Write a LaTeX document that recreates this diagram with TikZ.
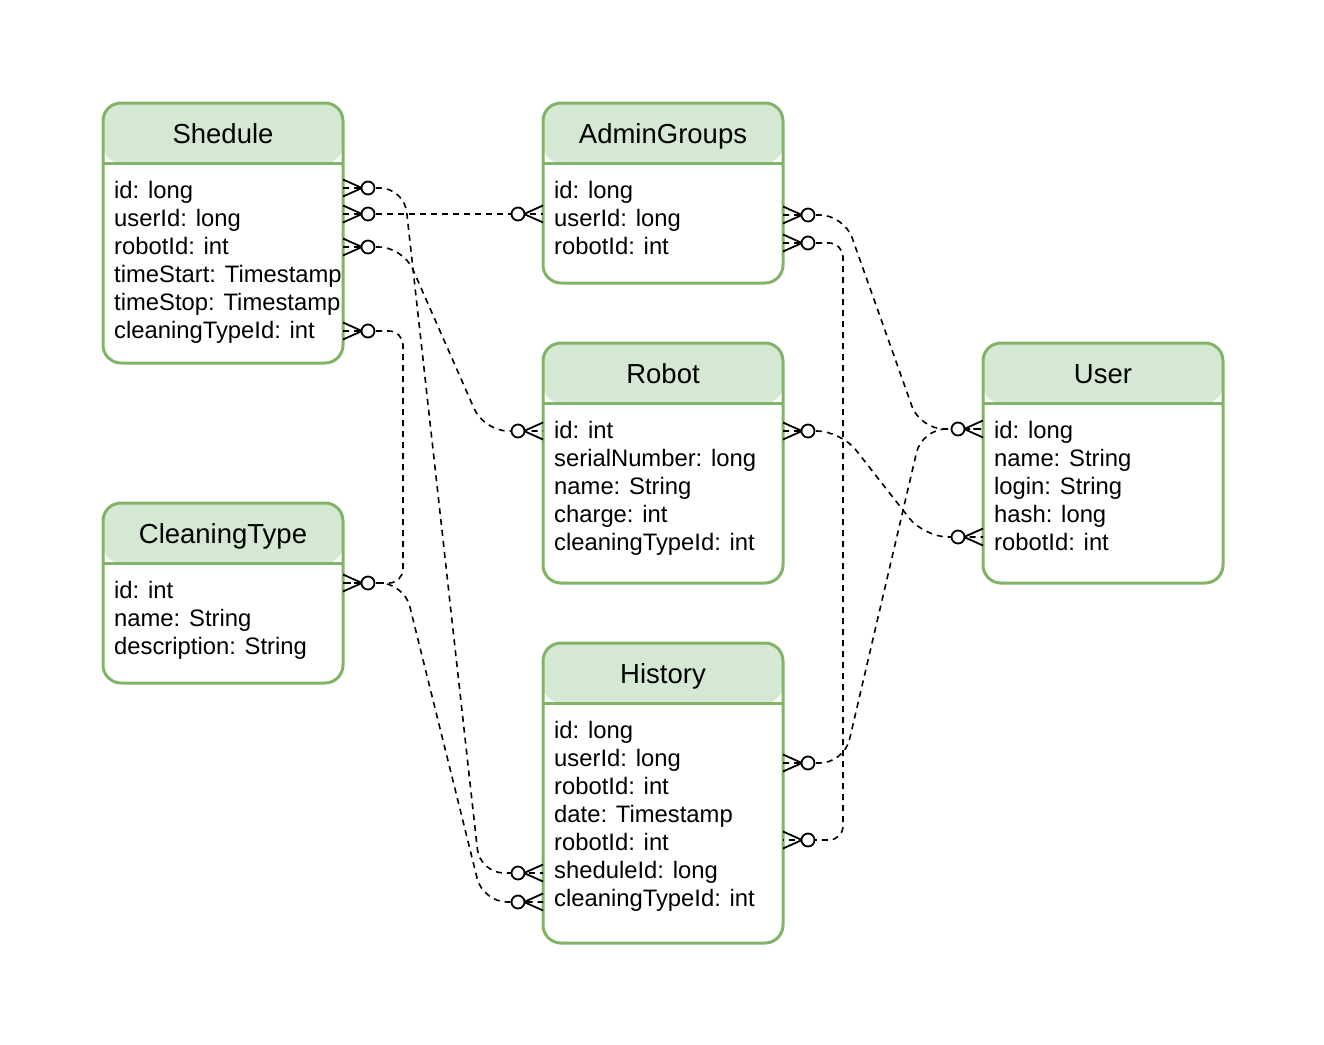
\documentclass[tikz,border=0pt]{standalone}
\usepackage{fontspec}
\setmainfont{Liberation Sans}
\usetikzlibrary{calc}
\definecolor{erline}{HTML}{82B366}
\definecolor{erhead}{HTML}{D5E8D4}
\tikzset{
  tbl/.style={draw=erline, line width=3pt, rounded corners=18pt, fill=white,
    minimum width=240pt, anchor=north west, outer sep=0pt, inner sep=0pt,
    path picture={
      \fill[erhead] (path picture bounding box.north west) rectangle ([yshift=-60pt]path picture bounding box.north east);
      \draw[erline, line width=3pt] ([yshift=-60pt]path picture bounding box.north west) -- ([yshift=-60pt]path picture bounding box.north east);
    }},
  ttl/.style={anchor=base, font=\fontsize{27.5}{30}\selectfont, inner sep=0pt},
  row/.style={anchor=base west, font=\fontsize{23.8}{28}\selectfont, inner sep=0pt, text height=19pt, text depth=5pt},
  conn/.style={line width=1.6pt, dash pattern=on 6pt off 5pt, rounded corners=24pt},
  connsq/.style={line width=1.6pt, dash pattern=on 6pt off 5pt, rounded corners=14pt},
  zm/.pic={
    \draw[line width=1.8pt, solid] (0,-8.5) -- (19,0) -- (0,8.5);
    \draw[line width=1.8pt, solid, fill=white] (25,0) circle[radius=6.5pt];
  }
}
\begin{document}
\begin{tikzpicture}[x=1pt, y=-1pt]
\fill[white] (0,0) rectangle (1324,1044);
\useasboundingbox (0,0) rectangle (1324,1044);

% ---------- tables ----------
\node[tbl, minimum height=260pt] (shedule) at (103,103) {};
\node[ttl] (shedule-t) at (223,143) {Shedule};
\node[row] (s1) at (114,198) {id: long};
\node[row] (s2) at (114,226) {userId: long};
\node[row] (s3) at (114,254) {robotId: int};
\node[row] (s4) at (114,282) {timeStart: Timestamp};
\node[row] (s5) at (114,310) {timeStop: Timestamp};
\node[row] (s6) at (114,338) {cleaningTypeId: int};

\node[tbl, minimum height=180pt] (admin) at (543,103) {};
\node[ttl] (admin-t) at (663,143) {AdminGroups};
\node[row] (a1) at (554,198) {id: long};
\node[row] (a2) at (554,226) {userId: long};
\node[row] (a3) at (554,254) {robotId: int};

\node[tbl, minimum height=240pt] (robot) at (543,343) {};
\node[ttl] (robot-t) at (663,383) {Robot};
\node[row] (r1) at (554,438) {id: int};
\node[row] (r2) at (554,466) {serialNumber: long};
\node[row] (r3) at (554,494) {name: String};
\node[row] (r4) at (554,522) {charge: int};
\node[row] (r5) at (554,550) {cleaningTypeId: int};

\node[tbl, minimum height=240pt] (user) at (983,343) {};
\node[ttl] (user-t) at (1103,383) {User};
\node[row] (u1) at (994,438) {id: long};
\node[row] (u2) at (994,466) {name: String};
\node[row] (u3) at (994,494) {login: String};
\node[row] (u4) at (994,522) {hash: long};
\node[row] (u5) at (994,550) {robotId: int};

\node[tbl, minimum height=180pt] (ctype) at (103,503) {};
\node[ttl] (ctype-t) at (223,543) {CleaningType};
\node[row] (c1) at (114,598) {id: int};
\node[row] (c2) at (114,626) {name: String};
\node[row] (c3) at (114,654) {description: String};

\node[tbl, minimum height=300pt] (history) at (543,643) {};
\node[ttl] (history-t) at (663,683) {History};
\node[row] (h1) at (554,738) {id: long};
\node[row] (h2) at (554,766) {userId: long};
\node[row] (h3) at (554,794) {robotId: int};
\node[row] (h4) at (554,822) {date: Timestamp};
\node[row] (h5) at (554,850) {robotId: int};
\node[row] (h6) at (554,878) {sheduleId: long};
\node[row] (h7) at (554,906) {cleaningTypeId: int};

% ---------- ports ----------
\coordinate (shId)    at ($(shedule.east |- s1)+(0,-3)$);
\coordinate (shUser)  at ($(shedule.east |- s2)+(0,-5)$);
\coordinate (shRobot) at (shedule.east |- s3);
\coordinate (shCT)    at (shedule.east |- s6);
\coordinate (agUserL) at ($(admin.west |- a2)+(0,-5)$);
\coordinate (agUserR) at ($(admin.east |- a2)+(0,-4)$);
\coordinate (agRobot) at ($(admin.east |- a3)+(0,-4)$);
\coordinate (rbIdL)   at (robot.west |- r1);
\coordinate (rbIdR)   at (robot.east |- r1);
\coordinate (usId)    at ($(user.west |- u1)+(0,-2)$);
\coordinate (usRobot) at ($(user.west |- u5)+(0,-6)$);
\coordinate (ctId)    at ($(ctype.east |- c1)+(0,-8)$);
\coordinate (hiUser)  at ($(history.east |- h2)+(0,4)$);
\coordinate (hiRobot) at ($(history.east |- h5)+(0,-3)$);
\coordinate (hiShed)  at ($(history.west |- h6)+(0,2)$);
\coordinate (hiCT)    at ($(history.west |- h7)+(0,3)$);

% ---------- connectors ----------
\draw[conn] (shUser) -- (agUserL);
\draw[conn] (shId) -- ++(61,0) -- ($(hiShed)+(-63,0)$) -- (hiShed);
\draw[conn] (shRobot) -- ++(60,0) -- ($(rbIdL)+(-59,0)$) -- (rbIdL);
\draw[connsq] (shCT) -- ++(60,0) -- ($(ctId)+(60,0)$) -- (ctId);
\draw[conn] (ctId) -- ++(61,0) -- ($(hiCT)+(-60,0)$) -- (hiCT);
\draw[conn] (agUserR) -- ++(61,0) -- ($(usId)+(-63,0)$) -- (usId);
\draw[connsq] (agRobot) -- ++(60,0) -- ($(hiRobot)+(60,0)$) -- (hiRobot);
\draw[conn] (rbIdR) -- ++(58,0) -- ($(usRobot)+(-59,0)$) -- (usRobot);
\draw[conn] (hiUser) -- ++(61,0) -- ($(usId)+(-61,0)$) -- (usId);

% ---------- end markers ----------
\foreach \p in {shId,shUser,shRobot,shCT,agUserR,agRobot,rbIdR,ctId,hiUser,hiRobot}
  \pic at (\p) {zm};
\foreach \p in {agUserL,rbIdL,usId,usRobot,hiShed,hiCT}
  \pic[rotate=180] at (\p) {zm};
\end{tikzpicture}
\end{document}
